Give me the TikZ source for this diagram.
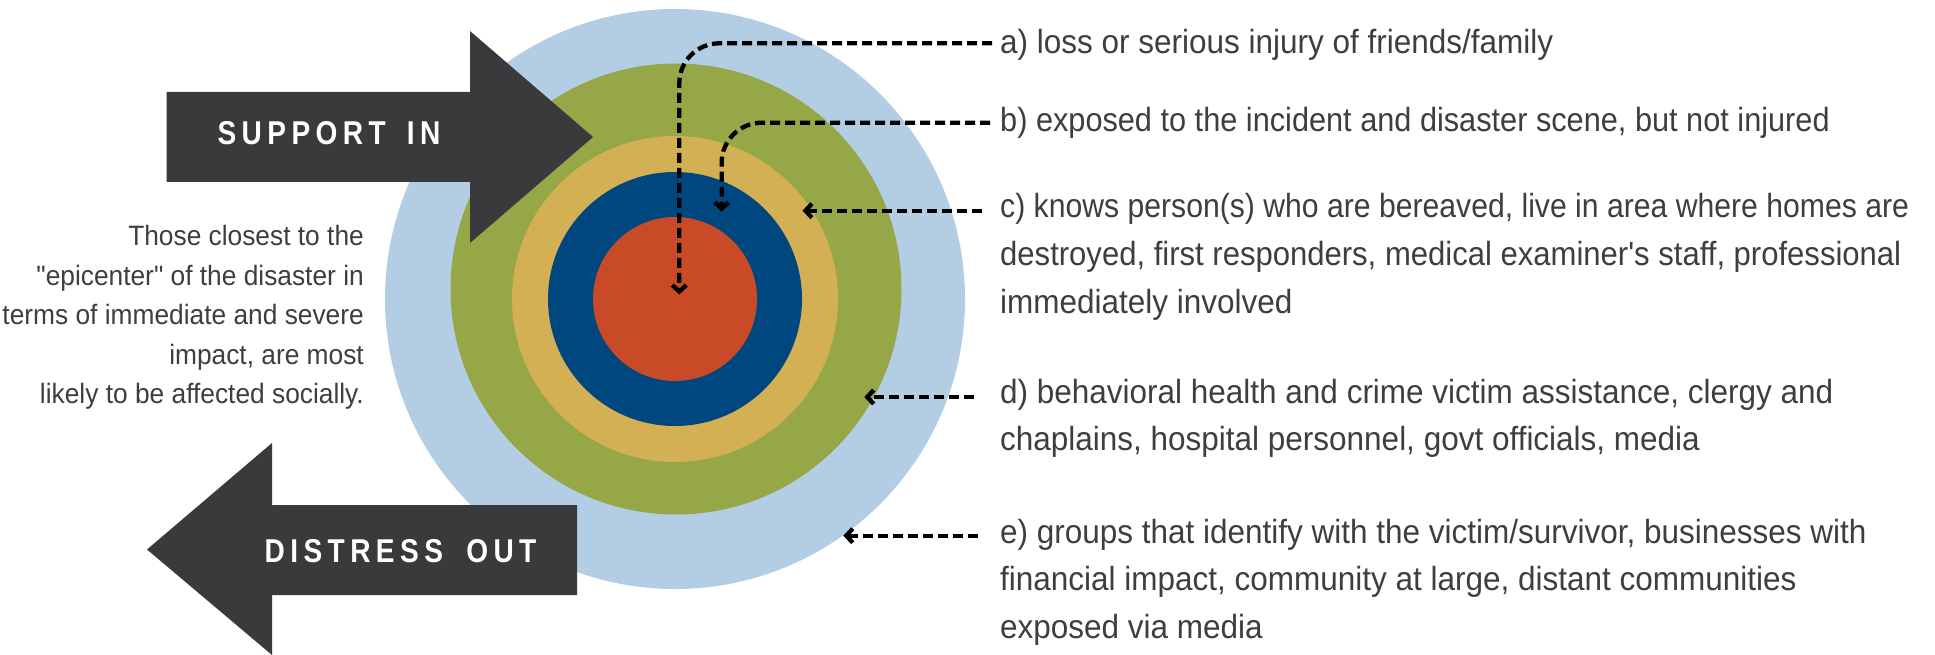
\documentclass[tikz,border=0pt]{standalone}
\usepackage{fontspec}
\usepackage{graphicx}
\usetikzlibrary{arrows.meta}
\newfontfamily\bodyfont{Liberation Sans}[FakeStretch=0.94]
\newfontfamily\arrowfont{Liberation Sans}[FakeStretch=0.85,LetterSpace=16.5]
\definecolor{ringE}{HTML}{B3CDE5}
\definecolor{ringD}{HTML}{95A746}
\definecolor{ringC}{HTML}{D3B053}
\definecolor{ringB}{HTML}{00467F}
\definecolor{ringA}{HTML}{C94A27}
\definecolor{arrowgray}{HTML}{3A3A3C}
\definecolor{txt}{HTML}{3E3E40}
\begin{document}
\begin{tikzpicture}[x=1pt,y=-1pt,
  rline/.style={anchor=base west, inner sep=0pt, text=txt, font=\bodyfont\fontsize{33.5}{40}\selectfont},
  lline/.style={anchor=base east, inner sep=0pt, text=txt, font=\bodyfont\fontsize{28}{34}\selectfont},
  arrowlabel/.style={anchor=base, inner sep=0pt, text=white, font=\arrowfont\bfseries\fontsize{33}{40}\selectfont},
  conn/.style={line width=4.3pt, dash pattern=on 10pt off 5pt, -{Straight Barb[length=6.5pt,width=14pt]}}
]
\useasboundingbox (0,0) rectangle (1935,655);
% rings
\fill[ringE] (675,299) circle[radius=290];
\fill[ringD] (676,289) circle[radius=225.5];
\fill[ringC] (675,299) circle[radius=163];
\fill[ringB] (675,299) circle[radius=127];
\fill[ringA] (675,299) circle[radius=82];
% big arrows
\fill[arrowgray] (166.7,92) -- (470,92) -- (470,31) -- (593,137) -- (470,243) -- (470,182) -- (166.7,182) -- cycle;
\fill[arrowgray] (577,505) -- (272,505) -- (272,443) -- (147,549.5) -- (272,655) -- (272,595) -- (577,595) -- cycle;
\node[arrowlabel] (supin) at (329,145) {SUPPORT\hspace{8pt} IN};
\node[arrowlabel] (disout) at (400.5,562) {DISTRESS\hspace{10pt} OUT};
% left text
\node[lline] (l1) at (364,245.7) {Those closest to the};
\node[lline] (l2) at (364,285.2) {"epicenter" of the disaster in};
\node[lline] (l3) at (364,324.7) {terms of immediate and severe};
\node[lline] (l4) at (364,364.2) {impact, are most};
\node[lline] (l5) at (364,403.7) {likely to be affected socially.};
% right text
\node[rline] (ta) at (1000,53.3) {a) loss or serious injury of friends/family};
\node[rline] (tb) at (1000,131.5) {\scalebox{0.975}[1]{b) exposed to the incident and disaster scene, but not injured}};
\node[rline] (tc1) at (1000,218) {\scalebox{0.958}[1]{c) knows person(s) who are bereaved, live in area where homes are}};
\node[rline] (tc2) at (1000,265.5) {\scalebox{0.986}[1]{destroyed, first responders, medical examiner's staff, professional}};
\node[rline] (tc3) at (1000,313) {immediately involved};
\node[rline] (td1) at (1000,403) {d) behavioral health and crime victim assistance, clergy and};
\node[rline] (td2) at (1000,450.5) {chaplains, hospital personnel, govt officials, media};
\node[rline] (te1) at (1000,543) {e) groups that identify with the victim/survivor, businesses with};
\node[rline] (te2) at (1000,590.5) {financial impact, community at large, distant communities};
\node[rline] (te3) at (1000,638) {exposed via media};
% connector end points
\coordinate (as) at (992,43.3);
\coordinate (ae) at (679.3,294.5);
\coordinate (bs) at (990,122.7);
\coordinate (be) at (721.7,211.7);
\coordinate (cs) at (982,210.7);
\coordinate (ce) at (802.5,210.7);
\coordinate (ds) at (974,397);
\coordinate (de) at (864.3,397);
\coordinate (es) at (978,535.7);
\coordinate (ee) at (843.3,535.7);
\draw[conn, rounded corners=40pt] (as) -| (ae);
\draw[conn, rounded corners=40pt] (bs) -| (be);
\draw[conn] (cs) -- (ce);
\draw[conn] (ds) -- (de);
\draw[conn] (es) -- (ee);
\end{tikzpicture}
\end{document}
